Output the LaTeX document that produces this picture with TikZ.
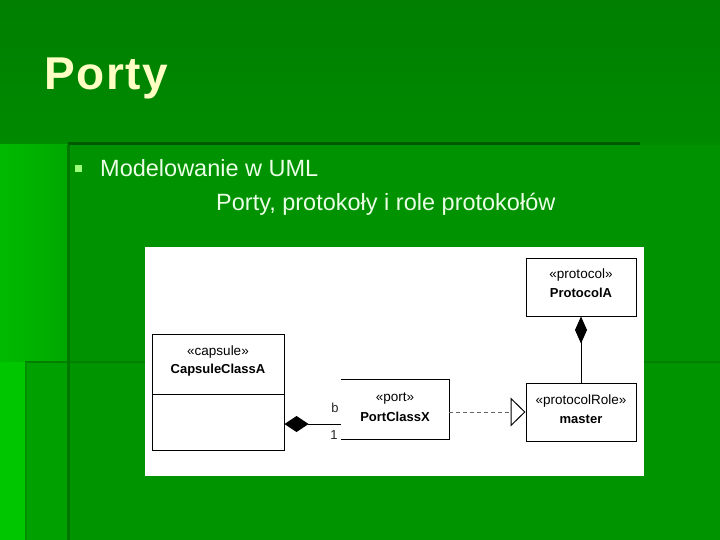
\documentclass[tikz,border=0pt]{standalone}
\usepackage{fontspec}
\setmainfont{Liberation Sans}
\newfontfamily\titlefont[LetterSpace=3.5]{Liberation Sans}
\usetikzlibrary{arrows.meta,calc}
\definecolor{topgreen}{HTML}{007F00}
\definecolor{topgreenb}{HTML}{008A00}
\definecolor{midgreen}{HTML}{009200}
\definecolor{lowgreen}{HTML}{009500}
\definecolor{brightgreen}{HTML}{00C600}
\definecolor{leftmid}{HTML}{00A800}
\definecolor{darkline}{HTML}{005A00}
\definecolor{edgeline}{HTML}{007800}
\definecolor{titlecol}{HTML}{FFFFC4}
\definecolor{bodycol}{HTML}{EAFFE6}
\definecolor{bulletcol}{HTML}{9CFF7A}
\tikzset{
  box/.style={draw=black, line width=1pt, fill=white, inner sep=0pt},
  stereo/.style={font=\fontsize{13.5}{15}\selectfont, inner sep=0pt},
  cname/.style={font=\fontsize{13}{15}\selectfont\bfseries, inner sep=0pt},
  mult/.style={font=\fontsize{13}{15}\selectfont, inner sep=0pt, text=black!85},
  conn/.style={line width=1pt, draw=black},
  body/.style={font=\fontsize{23.5}{26}\selectfont, text=bodycol, inner sep=0pt, anchor=base west}
}
\begin{document}
\begin{tikzpicture}[x=1pt,y=-1pt]
\useasboundingbox (0,0) rectangle (720,540);
% background
\fill[midgreen] (0,0) rectangle (720,540);
\shade[top color=topgreen, bottom color=topgreenb] (0,0) rectangle (720,145);
\fill[lowgreen] (25,362) rectangle (720,540);
\shade[left color=brightgreen!94!black, right color=leftmid] (0,145) rectangle (68,362);
\fill[brightgreen] (0,362) rectangle (25,540);
\fill[leftmid!95!black] (25,362) rectangle (68,540);
\draw[line width=1.5pt, color=lowgreen!85!black] (25,362) -- (720,362);
\draw[line width=1.5pt, color=leftmid!85!black] (26,362) -- (26,540);
\draw[line width=3pt, color=edgeline] (68,145) -- (68,540);
\draw[line width=3pt, color=darkline] (68,144) -- (640,144);
% title
\node[inner sep=0pt, anchor=base west, text=titlecol, font=\titlefont\fontsize{46}{50}\selectfont\bfseries] (title) at (44,90) {Porty};
% bullet text
\fill[bulletcol] (75,165) rectangle (82,172);
\node[body] (line1) at (100,177) {Modelowanie w UML};
\node[body] (line2) at (216,211) {Porty, protokoły i role protokołów};
% white diagram panel
\fill[white] (145,247) rectangle (644,476);
% capsule class
\node[box, minimum width=132pt, minimum height=116pt] (capsule) at (218,392) {};
\draw[conn] (152,394) -- (284,394);
\node[stereo] (capst) at (218,352) {«capsule»};
\node[cname] (capname) at (218,370) {CapsuleClassA};
% port class (open on the left)
\node[inner sep=0pt, minimum width=108pt, minimum height=59pt] (port) at (395,409.5) {};
\draw[conn] (port.north west) -- (port.north east) -- (port.south east) -- (port.south west);
\node[stereo] (portst) at (395,399) {«port»};
\node[cname] (portname) at (395,417) {PortClassX};
% protocol
\node[box, minimum width=110pt, minimum height=58pt] (protA) at (581,287) {};
\node[stereo] (protst) at (581,275) {«protocol»};
\node[cname] (protname) at (581,293) {ProtocolA};
% protocol role
\node[box, minimum width=110pt, minimum height=58pt] (master) at (581,412) {};
\node[stereo] (masterst) at (581,401) {«protocolRole»};
\node[cname] (mastername) at (581,419) {master};
% connectors
\coordinate (pj) at (341,424);
\draw[conn, {Diamond[length=24pt,width=16pt]}-] (capsule.east |- pj) -- (pj);
\node[mult] (mb) at (335,408) {b};
\node[mult] (m1) at (334,435) {1};
\draw[conn, {Diamond[length=27pt,width=12pt]}-] (protA.south) -- (master.north);
\draw[line width=1pt, draw=black!60, dash pattern=on 4pt off 3pt, -{Triangle[open, length=15pt, width=29pt, color=black, fill=white]}] (port.east |- master.west) -- (master.west);
\end{tikzpicture}
\end{document}
